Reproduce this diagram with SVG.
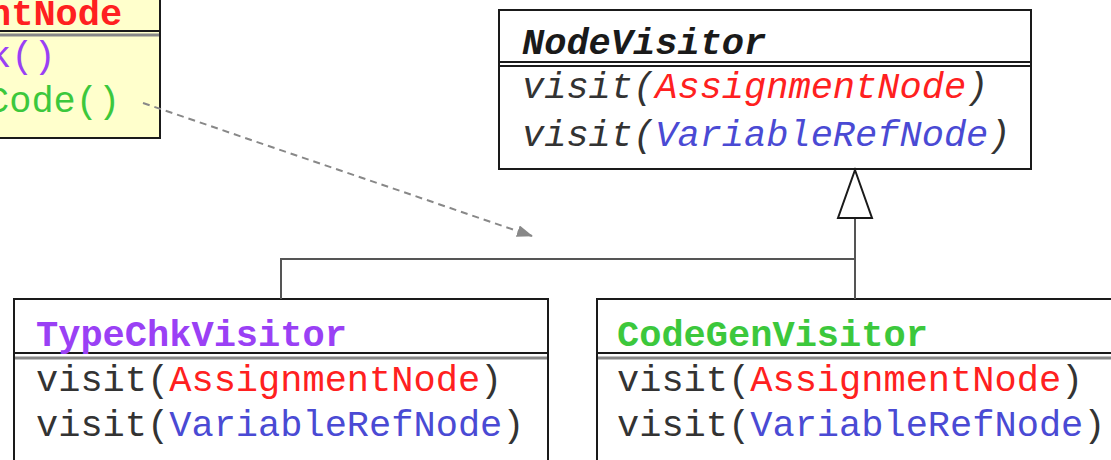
<svg xmlns="http://www.w3.org/2000/svg" width="1111" height="460" viewBox="0 0 1111 460">
<style>
  text { font-family: "Liberation Mono", "Courier New", monospace; font-size: 37px; }
  .title { font-weight: bold; }
  .ital { font-style: italic; }
  .box { fill: #ffffff; stroke: #1a1a1a; stroke-width: 2; }
  .yellow { fill: #ffffcc; }
  .sep1 { stroke: #1a1a1a; stroke-width: 2; }
  .sep2 { stroke: #888888; stroke-width: 3; }
  .dark { fill: #333333; }
  .red { fill: #ff2020; }
  .blue { fill: #4a4ad4; }
  .purple { fill: #9a40f5; }
  .green { fill: #3cc83c; }
  .conn { stroke: #555555; stroke-width: 2; fill: none; }
</style>
<defs>
  <marker id="dep" markerWidth="16" markerHeight="12" refX="15" refY="6" orient="auto" markerUnits="userSpaceOnUse">
    <path d="M0,0 L16,6 L0,12 Z" fill="#888888"/>
  </marker>
</defs>
<rect width="1111" height="460" fill="#ffffff"/>

<g id="AssignmentNode">
  <rect class="box yellow" x="-20" y="-20" width="180" height="158"/>
  <line class="sep1" x1="-20" y1="31" x2="160" y2="31"/>
  <line class="sep2" x1="-20" y1="35" x2="159" y2="35"/>
  <text class="title red" x="-11" y="25">ntNode</text>
  <text class="purple" x="-11" y="67">k()</text>
  <text class="green" x="-13" y="112">Code()</text>
</g>

<g id="NodeVisitor">
  <rect class="box" x="499" y="10" width="532" height="159"/>
  <line class="sep1" x1="499" y1="62" x2="1031" y2="62"/>
  <line class="sep1" x1="499" y1="66" x2="1031" y2="66"/>
  <text class="title ital" x="522" y="54" fill="#1a1a1a">NodeVisitor</text>
  <text class="ital" x="522" y="98"><tspan class="dark">visit(</tspan><tspan class="red">AssignmentNode</tspan><tspan class="dark">)</tspan></text>
  <text class="ital" x="522" y="146"><tspan class="dark">visit(</tspan><tspan class="blue">VariableRefNode</tspan><tspan class="dark">)</tspan></text>
</g>

<g id="TypeChkVisitor">
  <rect class="box" x="14" y="299" width="534" height="180"/>
  <line class="sep1" x1="14" y1="353" x2="548" y2="353"/>
  <line class="sep2" x1="15" y1="358" x2="547" y2="358"/>
  <text class="title purple" x="36" y="346">TypeChkVisitor</text>
  <text x="36" y="391"><tspan class="dark">visit(</tspan><tspan class="red">AssignmentNode</tspan><tspan class="dark">)</tspan></text>
  <text x="36" y="436"><tspan class="dark">visit(</tspan><tspan class="blue">VariableRefNode</tspan><tspan class="dark">)</tspan></text>
</g>

<g id="CodeGenVisitor">
  <rect class="box" x="597" y="299" width="540" height="180"/>
  <line class="sep1" x1="597" y1="353" x2="1111" y2="353"/>
  <line class="sep2" x1="598" y1="358" x2="1111" y2="358"/>
  <text class="title green" x="617" y="346">CodeGenVisitor</text>
  <text x="617" y="391"><tspan class="dark">visit(</tspan><tspan class="red">AssignmentNode</tspan><tspan class="dark">)</tspan></text>
  <text x="617" y="436"><tspan class="dark">visit(</tspan><tspan class="blue">VariableRefNode</tspan><tspan class="dark">)</tspan></text>
</g>

<g id="connectors">
  <polyline class="conn" points="281,299 281,259 855,259"/>
  <line class="conn" x1="855" y1="218" x2="855" y2="299"/>
  <polygon points="855,170 872,218 838,218" fill="#ffffff" stroke="#1a1a1a" stroke-width="2"/>
  <line x1="143" y1="103" x2="532" y2="236" stroke="#888888" stroke-width="2" stroke-dasharray="7,5" marker-end="url(#dep)"/>
</g>
</svg>
